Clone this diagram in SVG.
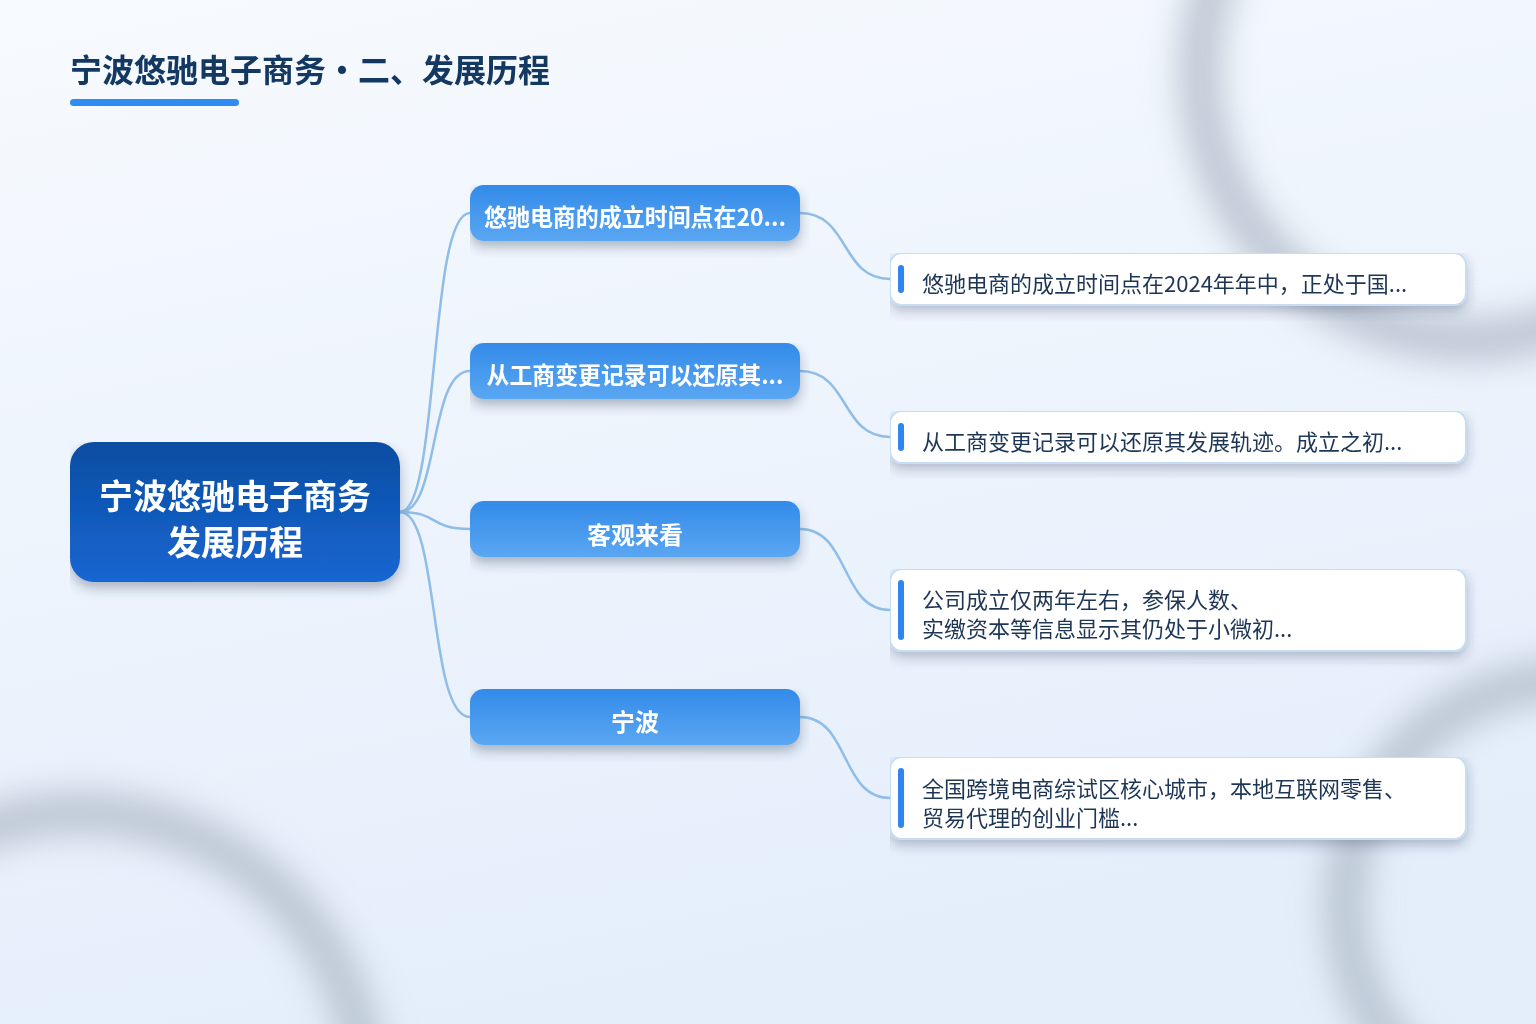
<svg xmlns="http://www.w3.org/2000/svg" width="1536" height="1024" viewBox="0 0 1536 1024">
<defs>
<linearGradient id="bg" x1="0" y1="0" x2="0.3" y2="1">
<stop offset="0" stop-color="#f7fafe"/>
<stop offset="1" stop-color="#e4eefb"/>
</linearGradient>
<linearGradient id="rootG" x1="0" y1="0" x2="0" y2="1">
<stop offset="0" stop-color="#0d4da2"/>
<stop offset="1" stop-color="#1566d2"/>
</linearGradient>
<linearGradient id="brG" x1="0" y1="0" x2="0" y2="1">
<stop offset="0" stop-color="#338be9"/>
<stop offset="1" stop-color="#5aa7f2"/>
</linearGradient>
<filter id="blurRing" x="-50%" y="-50%" width="200%" height="200%">
<feGaussianBlur stdDeviation="16"/>
</filter>
<filter id="sh" x="0" y="0" width="1.03" height="1.3">
<feDropShadow dx="0" dy="6" stdDeviation="6" flood-color="#2a3a55" flood-opacity="0.35"/>
</filter>
<filter id="shLeaf" x="0" y="0" width="1.03" height="1.3">
<feDropShadow dx="0" dy="5" stdDeviation="6" flood-color="#2a3a55" flood-opacity="0.3"/>
</filter>
<style>
.ring{fill:none;stroke:#b3bdca;stroke-width:44;opacity:0.8}
.conn{fill:none;stroke:#8fbde8;stroke-width:2.5}
.branch{fill:url(#brG);filter:url(#sh)}
.btxt{font-family:"Noto Sans CJK SC","Noto Sans",sans-serif;font-weight:700;font-size:24px;fill:#ffffff;text-anchor:middle}
.leaf{fill:#ffffff;stroke:#c6ddf4;stroke-width:2;filter:url(#shLeaf)}
.bar{fill:#2f86ee}
.ltxt{font-family:"Noto Sans CJK SC","Noto Sans",sans-serif;font-size:22px;fill:#1e3656}
</style>
</defs>
<rect width="1536" height="1024" fill="url(#bg)"/>
<g filter="url(#blurRing)">
<circle class="ring" cx="1470" cy="70" r="270"/>
<circle class="ring" cx="80" cy="1100" r="287"/>
<circle class="ring" cx="1570" cy="905" r="225"/>
</g>

<g id="title">
<text x="70" y="82" font-family="'Noto Sans CJK SC','Noto Sans',sans-serif" font-weight="700" font-size="32" fill="#133862">宁波悠驰电子商务・二、发展历程</text>
<rect x="70" y="99" width="169" height="7" rx="3.5" fill="#2f8cf0"/>
</g>

<g id="connectors">
<path class="conn" d="M400 512 C 440 512, 428 213, 470 213"/>
<path class="conn" d="M400 512 C 440 512, 428 371, 470 371"/>
<path class="conn" d="M400 512 C 440 512, 428 529, 470 529"/>
<path class="conn" d="M400 512 C 440 512, 428 717, 470 717"/>
<path class="conn" d="M800 213 C 850 213, 840 279, 890 279"/>
<path class="conn" d="M800 371 C 850 371, 840 437, 890 437"/>
<path class="conn" d="M800 529 C 850 529, 840 610, 890 610"/>
<path class="conn" d="M800 717 C 850 717, 840 798, 890 798"/>
</g>

<g id="root">
<rect x="70" y="442" width="330" height="140" rx="24" fill="url(#rootG)" filter="url(#sh)"/>
<text x="235" y="509" class="btxt" style="font-size:34px">宁波悠驰电子商务</text>
<text x="235" y="555" class="btxt" style="font-size:34px">发展历程</text>
</g>

<g id="branch1">
<rect class="branch" x="470" y="185" width="330" height="56" rx="14"/>
<text class="btxt" x="635" y="226" textLength="302" lengthAdjust="spacingAndGlyphs">悠驰电商的成立时间点在20...</text>
</g>
<g id="branch2">
<rect class="branch" x="470" y="343" width="330" height="56" rx="14"/>
<text class="btxt" x="635" y="384" textLength="297" lengthAdjust="spacingAndGlyphs">从工商变更记录可以还原其...</text>
</g>
<g id="branch3">
<rect class="branch" x="470" y="501" width="330" height="56" rx="14"/>
<text class="btxt" x="635" y="544">客观来看</text>
</g>
<g id="branch4">
<rect class="branch" x="470" y="689" width="330" height="56" rx="14"/>
<text class="btxt" x="635" y="731">宁波</text>
</g>

<g id="leaf1">
<rect class="leaf" x="890" y="253" width="576" height="52" rx="12"/>
<rect class="bar" x="898" y="265" width="6" height="28" rx="3"/>
<text class="ltxt" x="922" y="292">悠驰电商的成立时间点在2024年年中，正处于国...</text>
</g>
<g id="leaf2">
<rect class="leaf" x="890" y="411" width="576" height="52" rx="12"/>
<rect class="bar" x="898" y="423" width="6" height="28" rx="3"/>
<text class="ltxt" x="922" y="450">从工商变更记录可以还原其发展轨迹。成立之初...</text>
</g>
<g id="leaf3">
<rect class="leaf" x="890" y="569" width="576" height="82" rx="12"/>
<rect class="bar" x="898" y="580" width="6" height="60" rx="3"/>
<text class="ltxt" x="922" y="608">公司成立仅两年左右，参保人数、</text>
<text class="ltxt" x="922" y="637">实缴资本等信息显示其仍处于小微初...</text>
</g>
<g id="leaf4">
<rect class="leaf" x="890" y="757" width="576" height="82" rx="12"/>
<rect class="bar" x="898" y="768" width="6" height="60" rx="3"/>
<text class="ltxt" x="922" y="797">全国跨境电商综试区核心城市，本地互联网零售、</text>
<text class="ltxt" x="922" y="826">贸易代理的创业门槛...</text>
</g>
</svg>
